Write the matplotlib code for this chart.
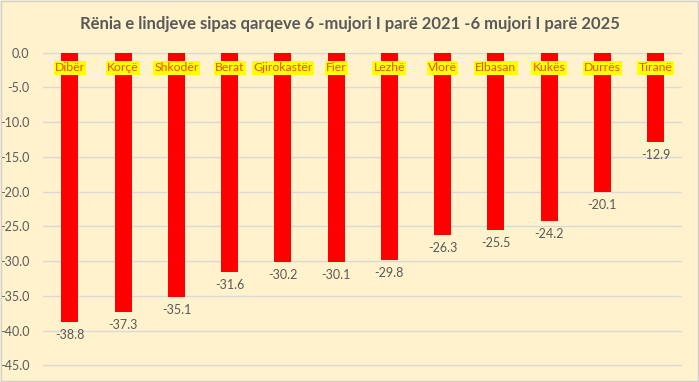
import matplotlib.pyplot as plt
from matplotlib.patches import Rectangle

# data
regions = ['Dibër', 'Korçë', 'Shkodër', 'Berat', 'Gjirokastër', 'Fier',
           'Lezhë', 'Vlorë', 'Elbasan', 'Kukës', 'Durrës', 'Tiranë']
decline = [-38.8, -37.3, -35.1, -31.6, -30.2, -30.1,
           -29.8, -26.3, -25.5, -24.2, -20.1, -12.9]
yticks = [0, -5, -10, -15, -20, -25, -30, -35, -40, -45]

bg = '#FFF2CC'
txt = '#595959'
plt.rcParams['font.family'] = ['Lato', 'DejaVu Sans']

fig = plt.figure(figsize=(6.99, 3.82), dpi=100, facecolor=bg)
ax = fig.add_axes([0.062, 0.038, 0.914, 0.83])
ax.set_facecolor(bg)

x = list(range(len(regions)))
ax.bar(x, decline, width=0.32, color='#FF0000', zorder=3)

for i, (name, v) in enumerate(zip(regions, decline)):
    ax.text(i, -2.2, name, ha='center', va='center', fontsize=8.8, color='#E8500A',
            zorder=4, bbox=dict(boxstyle='square,pad=0.1', fc='#FFFF00', ec='none'))
    ax.annotate(f'{v:.1f}', (i, v), xytext=(0, -5), textcoords='offset points',
                ha='center', va='top', fontsize=9, color=txt)

ax.set_xlim(-0.5, len(regions) - 0.5)
ax.set_ylim(-45.3, 0.3)
ax.set_yticks(yticks)
ax.set_yticklabels([f'{t:.1f}' for t in yticks], fontsize=9, color=txt)
ax.set_xticks([])
ax.grid(axis='y', color='#D9D9D9', lw=1, zorder=0)
ax.tick_params(axis='y', length=0, pad=10)
for s in ax.spines.values():
    s.set_visible(False)

fig.text(0.5, 0.938, 'Rënia e lindjeve sipas qarqeve 6 -mujori I parë 2021 -6 mujori I parë 2025',
         ha='center', va='center', fontsize=12, fontweight='bold', color=txt)
fig.patches.append(Rectangle((0.002, 0.003), 0.996, 0.994, transform=fig.transFigure,
                             fill=False, ec='#D0D0D0', lw=1))

fig.savefig('out.png', dpi=100, facecolor=bg)
